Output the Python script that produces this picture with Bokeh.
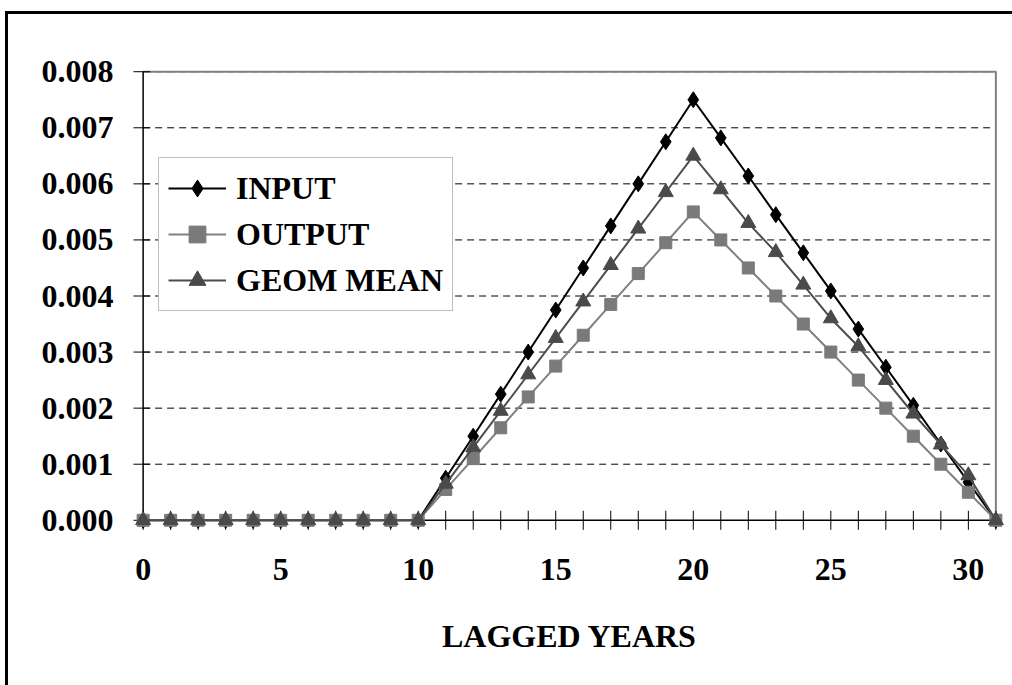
from bokeh.plotting import figure
from bokeh.models import (Range1d, FixedTicker, PrintfTickFormatter, Legend, LegendItem)
from bokeh.embed import file_html
from bokeh.resources import INLINE

# ---- data ----
lags = list(range(32))
input_vals = [0, 0, 0, 0, 0, 0, 0, 0, 0, 0, 0,
              0.00075, 0.0015, 0.00225, 0.003, 0.00375, 0.0045, 0.00525, 0.006, 0.00675, 0.0075,
              0.00682, 0.00614, 0.00545, 0.00477, 0.00409, 0.00341, 0.00273, 0.00205, 0.00136, 0.00068, 0]
output_vals = [0, 0, 0, 0, 0, 0, 0, 0, 0, 0, 0,
               0.00055, 0.0011, 0.00165, 0.0022, 0.00275, 0.0033, 0.00385, 0.0044, 0.00495, 0.0055,
               0.005, 0.0045, 0.004, 0.0035, 0.003, 0.0025, 0.002, 0.0015, 0.001, 0.0005, 0]
geom_vals = [0, 0, 0, 0, 0, 0, 0, 0, 0, 0, 0,
             0.00065, 0.0013, 0.00195, 0.0026, 0.00325, 0.0039, 0.00455, 0.0052, 0.00585, 0.0065,
             0.0059, 0.0053, 0.00478, 0.0042, 0.0036, 0.0031, 0.0025, 0.0019, 0.00135, 0.0008, 0]
series_names = ["INPUT", "OUTPUT", "GEOM MEAN"]
y_ticks = [0, 0.001, 0.002, 0.003, 0.004, 0.005, 0.006, 0.007, 0.008]
x_major = [0, 5, 10, 15, 20, 25, 30]
x_title = "LAGGED YEARS"

x_lo, x_hi = 0, 31
y_lo, y_hi = 0, 0.008

FONT = "Liberation Serif"
FS = "32px"

# tick half-lengths expressed in data units (styling)
XT_OUT, XT_IN = 0.47, 0.26        # y-axis ticks, horizontal extent
YT_OUT, YT_IN = 0.00017, 0.00017  # x-axis ticks, vertical extent

p = figure(width=1004, height=671, output_backend="svg", toolbar_location=None,
           x_range=Range1d(-0.35, 31.35), y_range=Range1d(-0.0002, 0.0082),
           min_border_left=125, min_border_right=10, min_border_top=46, min_border_bottom=157)
p.styles = {"border-left": "3px solid black", "border-top": "3px solid black",
            "border-right": "none", "border-bottom": "none",
            "box-sizing": "content-box", "outline": "none",
            "margin-left": "5px", "margin-top": "11px"}
p.outline_line_color = None
p.xgrid.visible = False
p.ygrid.visible = False
p.background_fill_color = "white"
p.border_fill_color = "white"

# dashed horizontal grid lines
grid_y = [t for t in y_ticks if t > 0]
p.segment(x0=[x_lo] * len(grid_y), x1=[x_hi] * len(grid_y), y0=grid_y, y1=grid_y,
          line_color="black", line_width=1, line_dash="7 5")
# grey frame on top and right
p.line(x=[x_lo, x_hi, x_hi], y=[y_hi, y_hi, y_lo], line_color="#808080", line_width=2)

# axis lines and tick marks
p.line(x=[x_lo, x_hi], y=[y_lo, y_lo], line_color="black", line_width=1.5)
p.line(x=[x_lo, x_lo], y=[y_lo, y_hi], line_color="black", line_width=1.5)
p.segment(x0=[x_lo - XT_OUT] * len(y_ticks), x1=[x_lo + XT_IN] * len(y_ticks),
          y0=y_ticks, y1=y_ticks, line_color="black", line_width=1)
p.segment(x0=lags, x1=lags, y0=[y_lo - YT_OUT] * len(lags), y1=[y_lo + YT_IN] * len(lags),
          line_color="black", line_width=1)

# axes: labels only
p.xaxis.ticker = FixedTicker(ticks=x_major, minor_ticks=[])
p.yaxis.ticker = FixedTicker(ticks=y_ticks, minor_ticks=[])
p.yaxis.formatter = PrintfTickFormatter(format="%.3f")
for ax in (p.xaxis, p.yaxis):
    ax.axis_line_color = None
    ax.major_tick_line_color = None
    ax.minor_tick_line_color = None
    ax.major_tick_in = 0
    ax.major_tick_out = 0
    ax.minor_tick_in = 0
    ax.minor_tick_out = 0
    ax.major_label_text_font = FONT
    ax.major_label_text_font_style = "bold"
    ax.major_label_text_font_size = FS
    ax.major_label_text_color = "black"
p.xaxis.major_label_standoff = 27
p.yaxis.major_label_standoff = 20
p.xaxis.axis_label = x_title
p.xaxis.axis_label_text_font = FONT
p.xaxis.axis_label_text_font_style = "bold"
p.xaxis.axis_label_text_font_size = FS
p.xaxis.axis_label_text_color = "black"
p.xaxis.axis_label_standoff = 35

# series
l1 = p.line(lags, input_vals, line_color="black", line_width=2)
m1 = p.scatter(lags, input_vals, marker="diamond", size=16, fill_color="black", line_color="black")
l2 = p.line(lags, output_vals, line_color="#808080", line_width=2)
m2 = p.scatter(lags, output_vals, marker="square", size=12, fill_color="#7a7a7a", line_color="#7a7a7a")
l3 = p.line(lags, geom_vals, line_color="#4d4d4d", line_width=2)
m3 = p.scatter(lags, geom_vals, marker="triangle", size=15, fill_color="#4a4a4a", line_color="#4a4a4a")

legend = Legend(items=[LegendItem(label=series_names[0], renderers=[l1, m1]),
                       LegendItem(label=series_names[1], renderers=[l2, m2]),
                       LegendItem(label=series_names[2], renderers=[l3, m3])],
                location=(25, 220))
legend.label_text_font = FONT
legend.label_text_font_style = "bold"
legend.label_text_font_size = FS
legend.label_text_color = "black"
legend.glyph_width = 58
legend.glyph_height = 42
legend.label_height = 42
legend.label_standoff = 10
legend.spacing = 4
legend.padding = 9
legend.margin = 0
legend.border_line_color = "#808080"
legend.border_line_width = 1
legend.background_fill_color = "white"
legend.background_fill_alpha = 1
p.add_layout(legend, "center")

open("out.html", "w").write(file_html(p, INLINE))
